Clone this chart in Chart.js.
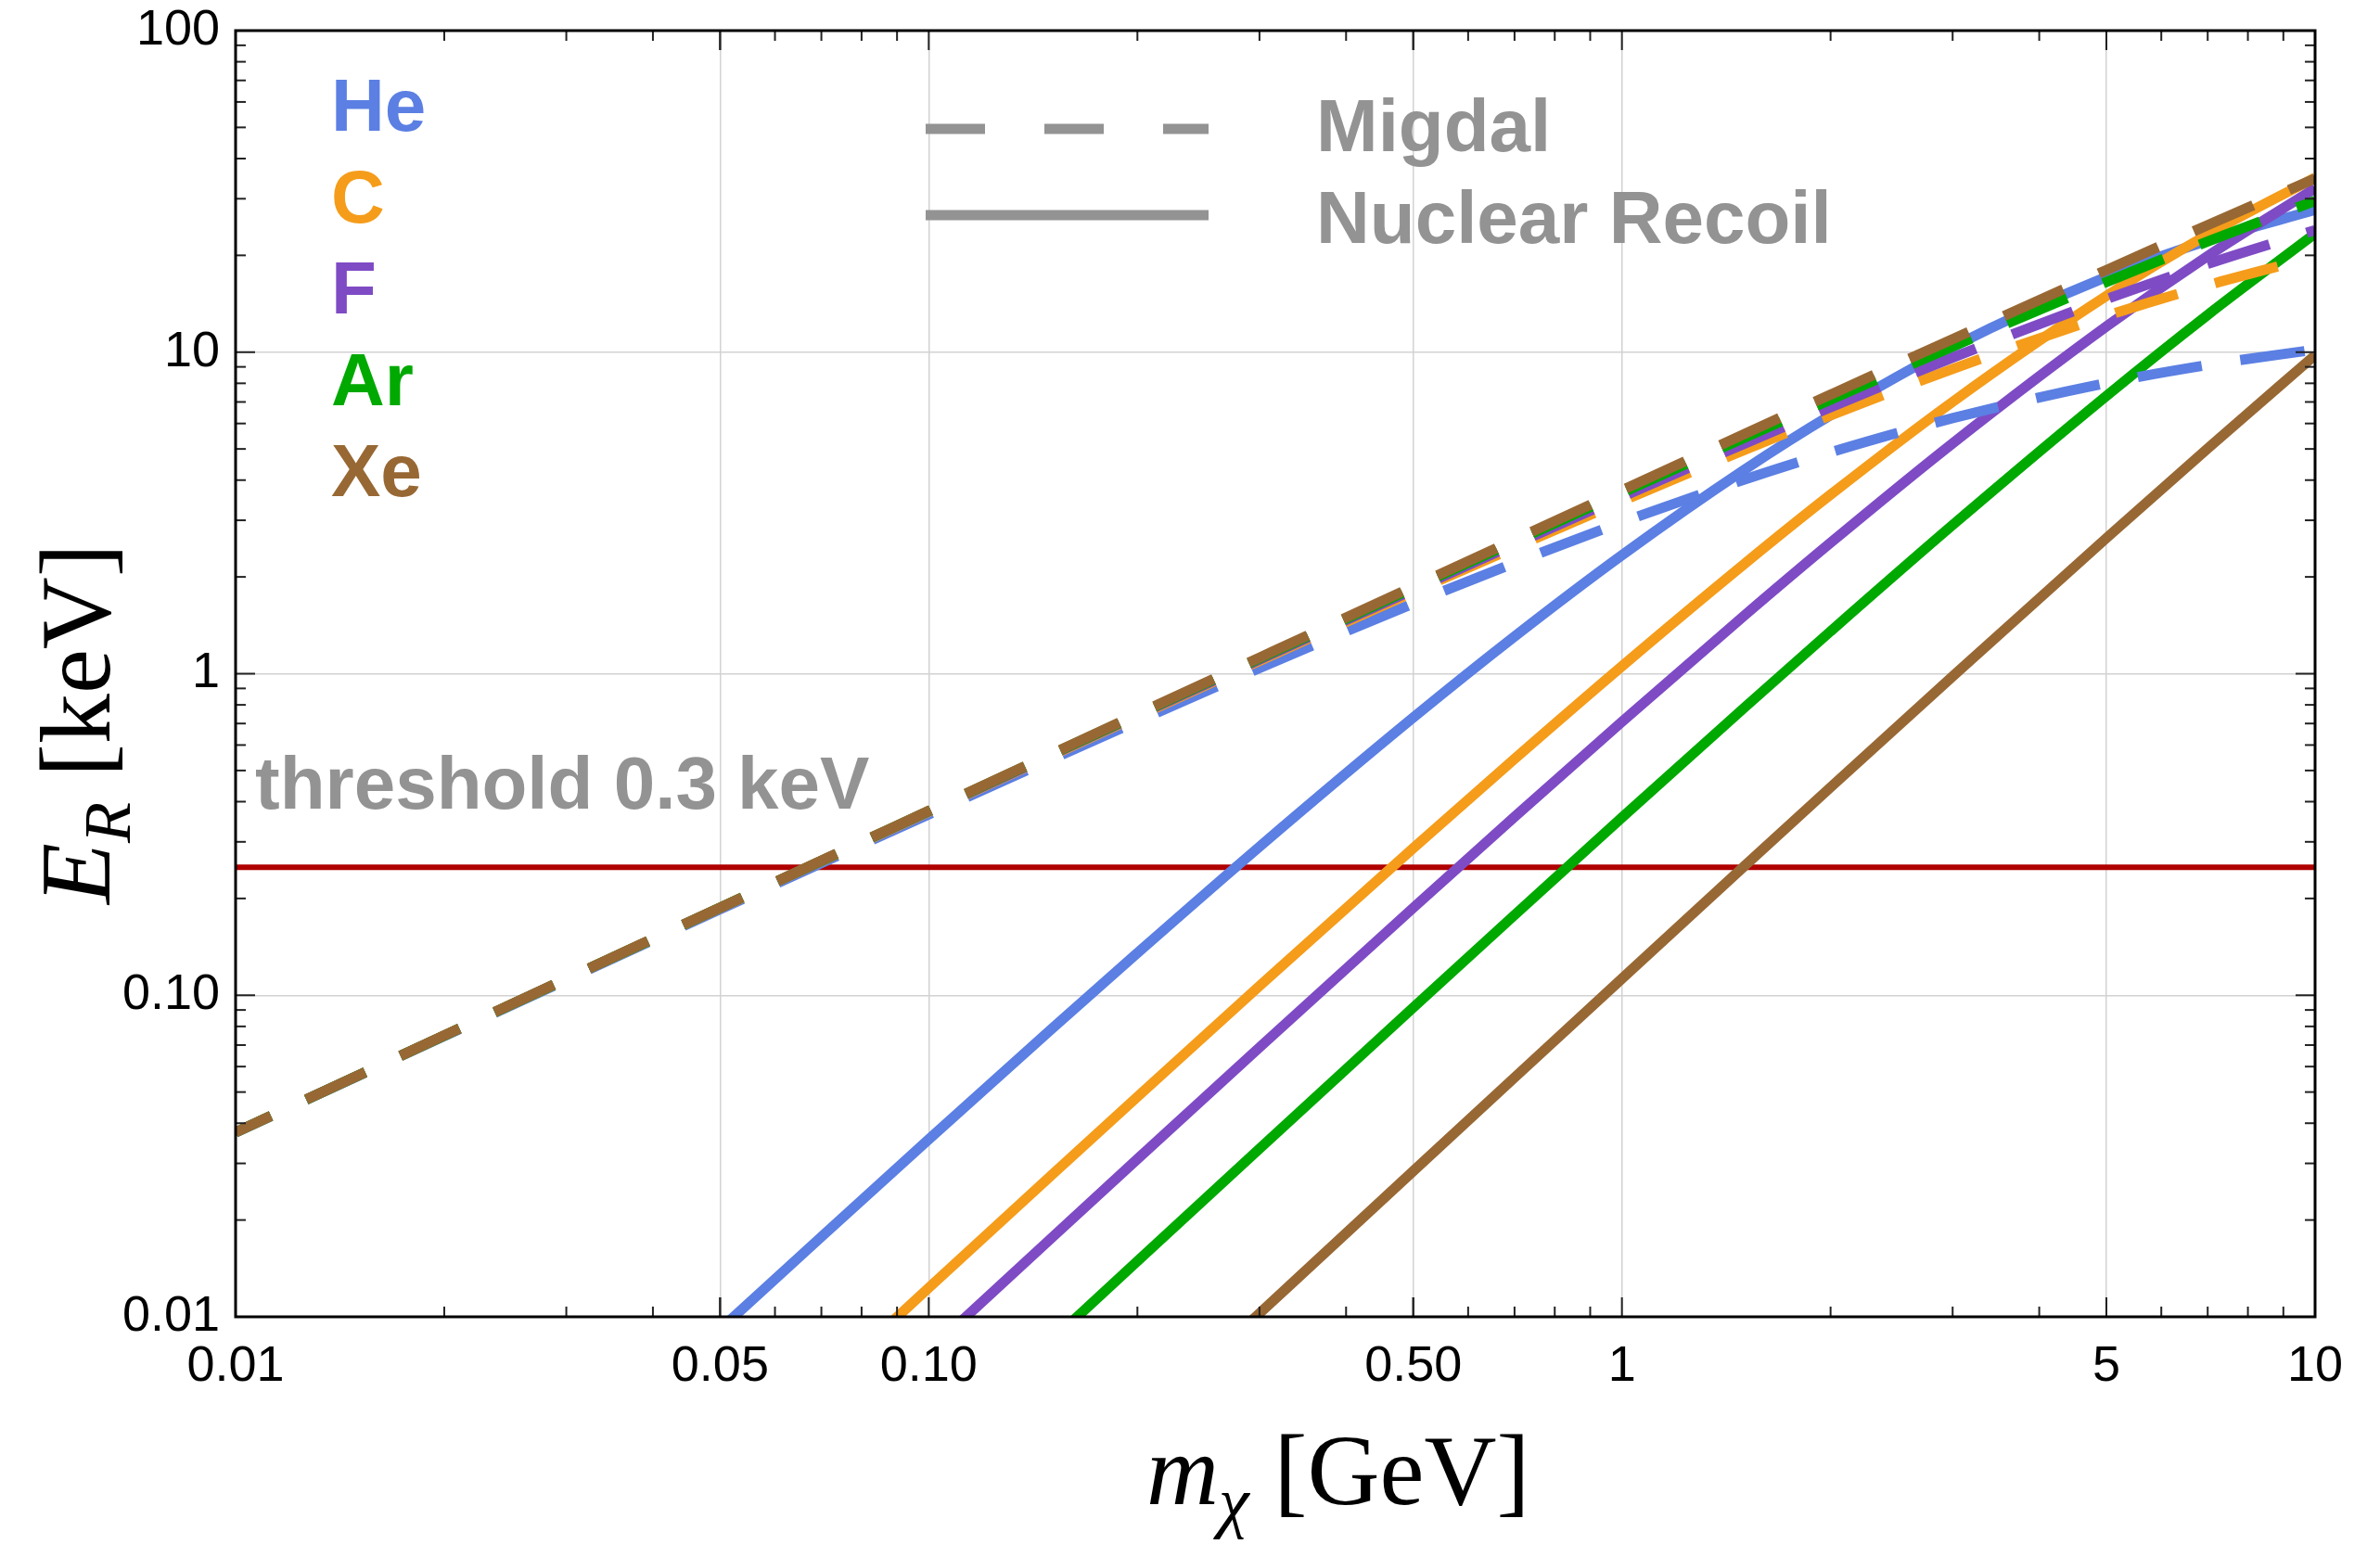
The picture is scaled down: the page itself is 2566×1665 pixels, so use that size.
<!DOCTYPE html>
<html>
<head>
<meta charset="utf-8">
<script src="https://cdn.jsdelivr.net/npm/chart.js@4.4.1/dist/chart.umd.min.js"></script>
<style>
html, body { margin: 0; padding: 0; background: #fff; }
#wrap { width: 2566px; height: 1665px; }
</style>
</head>
<body>
<div id="wrap"><canvas id="chart" width="2566" height="1665"></canvas></div>
<script>
// dark matter mass (GeV)
const massGeV = [0.01, 0.02, 0.03, 0.05, 0.07, 0.1, 0.15, 0.2, 0.3, 0.5, 0.7, 1, 1.5, 2, 3, 5, 7, 10];

// Migdal (dashed), keV
const migdalHe = [0.0374, 0.0746, 0.1116, 0.1850, 0.2577, 0.3652, 0.5407, 0.7118, 1.041, 1.653, 2.210, 2.957, 4.011, 4.881, 6.233, 8.008, 9.120, 10.18];
const migdalC  = [0.03747, 0.07487, 0.1122, 0.1867, 0.2609, 0.3717, 0.5550, 0.7368, 1.096, 1.795, 2.470, 3.442, 4.960, 6.362, 8.870, 12.96, 16.14, 19.80];
const migdalF  = [0.03748, 0.07491, 0.1123, 0.1870, 0.2615, 0.3729, 0.5578, 0.7416, 1.106, 1.824, 2.525, 3.550, 5.186, 6.739, 9.620, 14.62, 18.81, 23.96];
const migdalAr = [0.03749, 0.07496, 0.1124, 0.1872, 0.2620, 0.3740, 0.5603, 0.7460, 1.116, 1.850, 2.577, 3.652, 5.407, 7.118, 10.41, 16.53, 22.09, 29.56];
const migdalXe = [0.03750, 0.07499, 0.1125, 0.1874, 0.2624, 0.3747, 0.5618, 0.7488, 1.122, 1.867, 2.610, 3.720, 5.557, 7.379, 10.98, 18.01, 24.83, 34.67];

// nuclear recoil (solid), keV
const nuclearHe = [3.736e-4, 1.487e-3, 3.327e-3, 9.144e-3, 0.01773, 0.03563, 0.07811, 0.1353, 0.2896, 0.7301, 1.305, 2.335, 4.297, 6.363, 10.38, 17.13, 22.22, 27.69];
const nuclearC  = [1.250e-4, 4.991e-4, 1.121e-3, 3.103e-3, 6.060e-3, 0.01230, 0.02743, 0.04835, 0.1069, 0.2868, 0.5434, 1.055, 2.190, 3.604, 7.006, 14.95, 23.21, 34.89];
const nuclearF  = [7.900e-5, 3.157e-4, 7.095e-4, 1.966e-3, 3.845e-3, 7.821e-3, 0.01750, 0.03094, 0.06883, 0.1870, 0.3587, 0.7086, 1.513, 2.554, 5.205, 12.02, 19.90, 32.30];
const nuclearAr = [3.760e-5, 1.503e-4, 3.381e-4, 9.381e-4, 1.837e-3, 3.742e-3, 8.398e-3, 0.01489, 0.03332, 0.09158, 0.1776, 0.3568, 0.7822, 1.355, 2.900, 7.310, 13.06, 23.37];
const nuclearXe = [1.145e-5, 4.578e-5, 1.030e-4, 2.860e-4, 5.603e-4, 1.143e-3, 2.570e-3, 4.564e-3, 0.01025, 0.02839, 0.05546, 0.1126, 0.2514, 0.4433, 0.9815, 2.641, 5.018, 9.782];

const thresholdKeV = 0.25;

const elements = ['He', 'C', 'F', 'Ar', 'Xe'];
const elementColors = ['#5B7FE3', '#F59C1A', '#7E4BC5', '#00A900', '#986834'];

const xTickValues = [0.01, 0.05, 0.1, 0.5, 1, 5, 10];
const xTickLabels = ['0.01', '0.05', '0.10', '0.50', '1', '5', '10'];
const yTickValues = [0.01, 0.1, 1, 10, 100];
const yTickLabels = ['0.01', '0.10', '1', '10', '100'];

const X_MIN = 0.01, X_MAX = 10, Y_MIN = 0.01, Y_MAX = 100;
const GRAY = '#939393';
const SANS = '"Liberation Sans", Arial, Helvetica, sans-serif';
const SERIF = '"Liberation Serif", "Times New Roman", "DejaVu Serif", serif';

function series(vals) {
    return massGeV.map((m, i) => ({ x: m, y: vals[i] }));
}

const migdal = [migdalHe, migdalC, migdalF, migdalAr, migdalXe];
const nuclear = [nuclearHe, nuclearC, nuclearF, nuclearAr, nuclearXe];

// dataset 0 is drawn on top, so list Xe first
const datasets = [];
for (let i = elements.length - 1; i >= 0; i--) {
    datasets.push({
        label: elements[i] + ' Migdal',
        data: series(migdal[i]),
        borderColor: elementColors[i],
        borderWidth: 11,
        borderDash: [70, 42],
        borderDashOffset: 28,
        borderCapStyle: 'butt',
        pointRadius: 0,
        cubicInterpolationMode: 'monotone',
        clip: 0
    });
}
for (let i = elements.length - 1; i >= 0; i--) {
    datasets.push({
        label: elements[i] + ' NR',
        data: series(nuclear[i]),
        borderColor: elementColors[i],
        borderWidth: 11,
        pointRadius: 0,
        cubicInterpolationMode: 'monotone',
        clip: 0
    });
}
datasets.push({
    label: 'threshold',
    data: [{ x: X_MIN, y: thresholdKeV }, { x: X_MAX, y: thresholdKeV }],
    borderColor: '#B00000',
    borderWidth: 6,
    pointRadius: 0,
    clip: 0
});

// minor tick positions 2..9 per decade
function minorTicks(lo, hi) {
    const out = [];
    for (let d = lo; d < hi * 0.999; d *= 10) {
        for (let k = 2; k <= 9; k++) out.push(d * k);
    }
    return out;
}

const frameAndTicks = {
    id: 'frameAndTicks',
    afterDatasetsDraw(chart) {
        const { ctx, chartArea: a, scales: { x, y } } = chart;
        ctx.save();
        ctx.strokeStyle = '#222';
        ctx.lineWidth = 2;
        const line = (x1, y1, x2, y2) => { ctx.beginPath(); ctx.moveTo(x1, y1); ctx.lineTo(x2, y2); ctx.stroke(); };
        const xMajor = [0.01, 0.05, 0.1, 0.5, 1, 5, 10];
        minorTicks(X_MIN, X_MAX).forEach(v => {
            const len = xMajor.includes(v) ? 21 : 11;
            const px = x.getPixelForValue(v);
            line(px, a.bottom, px, a.bottom - len);
            line(px, a.top, px, a.top + len);
        });
        xMajor.forEach(v => {
            const px = x.getPixelForValue(v);
            line(px, a.bottom, px, a.bottom - 21);
            line(px, a.top, px, a.top + 21);
        });
        minorTicks(Y_MIN, Y_MAX).forEach(v => {
            const py = y.getPixelForValue(v);
            line(a.left, py, a.left + 11, py);
            line(a.right, py, a.right - 11, py);
        });
        yTickValues.forEach(v => {
            const py = y.getPixelForValue(v);
            line(a.left, py, a.left + 21, py);
            line(a.right, py, a.right - 21, py);
        });
        ctx.strokeStyle = '#000';
        ctx.lineWidth = 3;
        ctx.strokeRect(a.left, a.top, a.right - a.left, a.bottom - a.top);
        ctx.restore();
    }
};

function drawRuns(ctx, runs) {
    let cx = 0;
    runs.forEach(r => {
        ctx.font = r.font;
        ctx.fillText(r.text, cx, r.dy || 0);
        cx += ctx.measureText(r.text).width;
    });
}

const annotations = {
    id: 'annotations',
    afterDraw(chart) {
        const ctx = chart.ctx;
        ctx.save();
        ctx.textAlign = 'left';
        ctx.textBaseline = 'alphabetic';

        // element labels
        ctx.font = 'bold 80px ' + SANS;
        elements.forEach((el, i) => {
            ctx.fillStyle = elementColors[i];
            ctx.fillText(el, 357, 141 + i * 98.5);
        });

        // line style legend
        ctx.strokeStyle = GRAY;
        ctx.lineWidth = 11;
        ctx.lineCap = 'butt';
        ctx.setLineDash([64, 64]);
        ctx.beginPath(); ctx.moveTo(998, 139); ctx.lineTo(1303, 139); ctx.stroke();
        ctx.setLineDash([]);
        ctx.beginPath(); ctx.moveTo(998, 232); ctx.lineTo(1303, 232); ctx.stroke();
        ctx.fillStyle = GRAY;
        ctx.fillText('Migdal', 1419, 163);
        ctx.fillText('Nuclear Recoil', 1419, 262);

        // threshold note
        ctx.fillText('threshold 0.3 keV', 275, 872);

        // x axis title
        ctx.fillStyle = '#000';
        ctx.save();
        ctx.translate(1236, 1622);
        drawRuns(ctx, [
            { text: 'm', font: 'italic 108px ' + SERIF },
            { text: 'χ', font: 'italic 74px ' + SERIF, dy: 22 },
            { text: ' [GeV]', font: '108px ' + SERIF }
        ]);
        ctx.restore();

        // y axis title
        ctx.save();
        ctx.translate(118, 975);
        ctx.rotate(-Math.PI / 2);
        drawRuns(ctx, [
            { text: 'E', font: 'italic 108px ' + SERIF },
            { text: 'R', font: 'italic 72px ' + SERIF, dy: 22 },
            { text: ' [keV]', font: '108px ' + SERIF }
        ]);
        ctx.restore();

        ctx.restore();
    }
};

new Chart(document.getElementById('chart'), {
    type: 'line',
    data: { datasets: datasets },
    options: {
        responsive: false,
        devicePixelRatio: 1,
        animation: false,
        layout: { padding: { left: 0, top: 33, right: 70, bottom: 0 } },
        plugins: { legend: { display: false }, tooltip: { enabled: false } },
        scales: {
            x: {
                type: 'logarithmic',
                min: X_MIN,
                max: X_MAX,
                afterBuildTicks: s => { s.ticks = xTickValues.map(v => ({ value: v })); },
                afterFit: s => { s.height = 245; s.paddingLeft = 0; s.paddingRight = 0; },
                ticks: {
                    autoSkip: false,
                    maxRotation: 0,
                    padding: 22,
                    color: '#000',
                    font: { family: SANS, size: 54 },
                    callback: (v) => {
                        const i = xTickValues.indexOf(v);
                        return i >= 0 ? xTickLabels[i] : '';
                    }
                },
                grid: {
                    drawTicks: false,
                    lineWidth: 1.5,
                    color: c => (c.tick && c.tick.value > X_MIN && c.tick.value < X_MAX) ? '#d2d2d2' : 'rgba(0,0,0,0)'
                },
                border: { display: false }
            },
            y: {
                type: 'logarithmic',
                min: Y_MIN,
                max: Y_MAX,
                afterBuildTicks: s => { s.ticks = yTickValues.map(v => ({ value: v })); },
                afterFit: s => { s.width = 254; s.paddingTop = 0; s.paddingBottom = 0; },
                ticks: {
                    autoSkip: false,
                    padding: 17,
                    color: '#000',
                    font: { family: SANS, size: 54 },
                    callback: (v) => {
                        const i = yTickValues.indexOf(v);
                        return i >= 0 ? yTickLabels[i] : '';
                    }
                },
                grid: {
                    drawTicks: false,
                    lineWidth: 1.5,
                    color: c => (c.tick && c.tick.value > Y_MIN && c.tick.value < Y_MAX) ? '#d2d2d2' : 'rgba(0,0,0,0)'
                },
                border: { display: false }
            }
        }
    },
    plugins: [frameAndTicks, annotations]
});
</script>
</body>
</html>
